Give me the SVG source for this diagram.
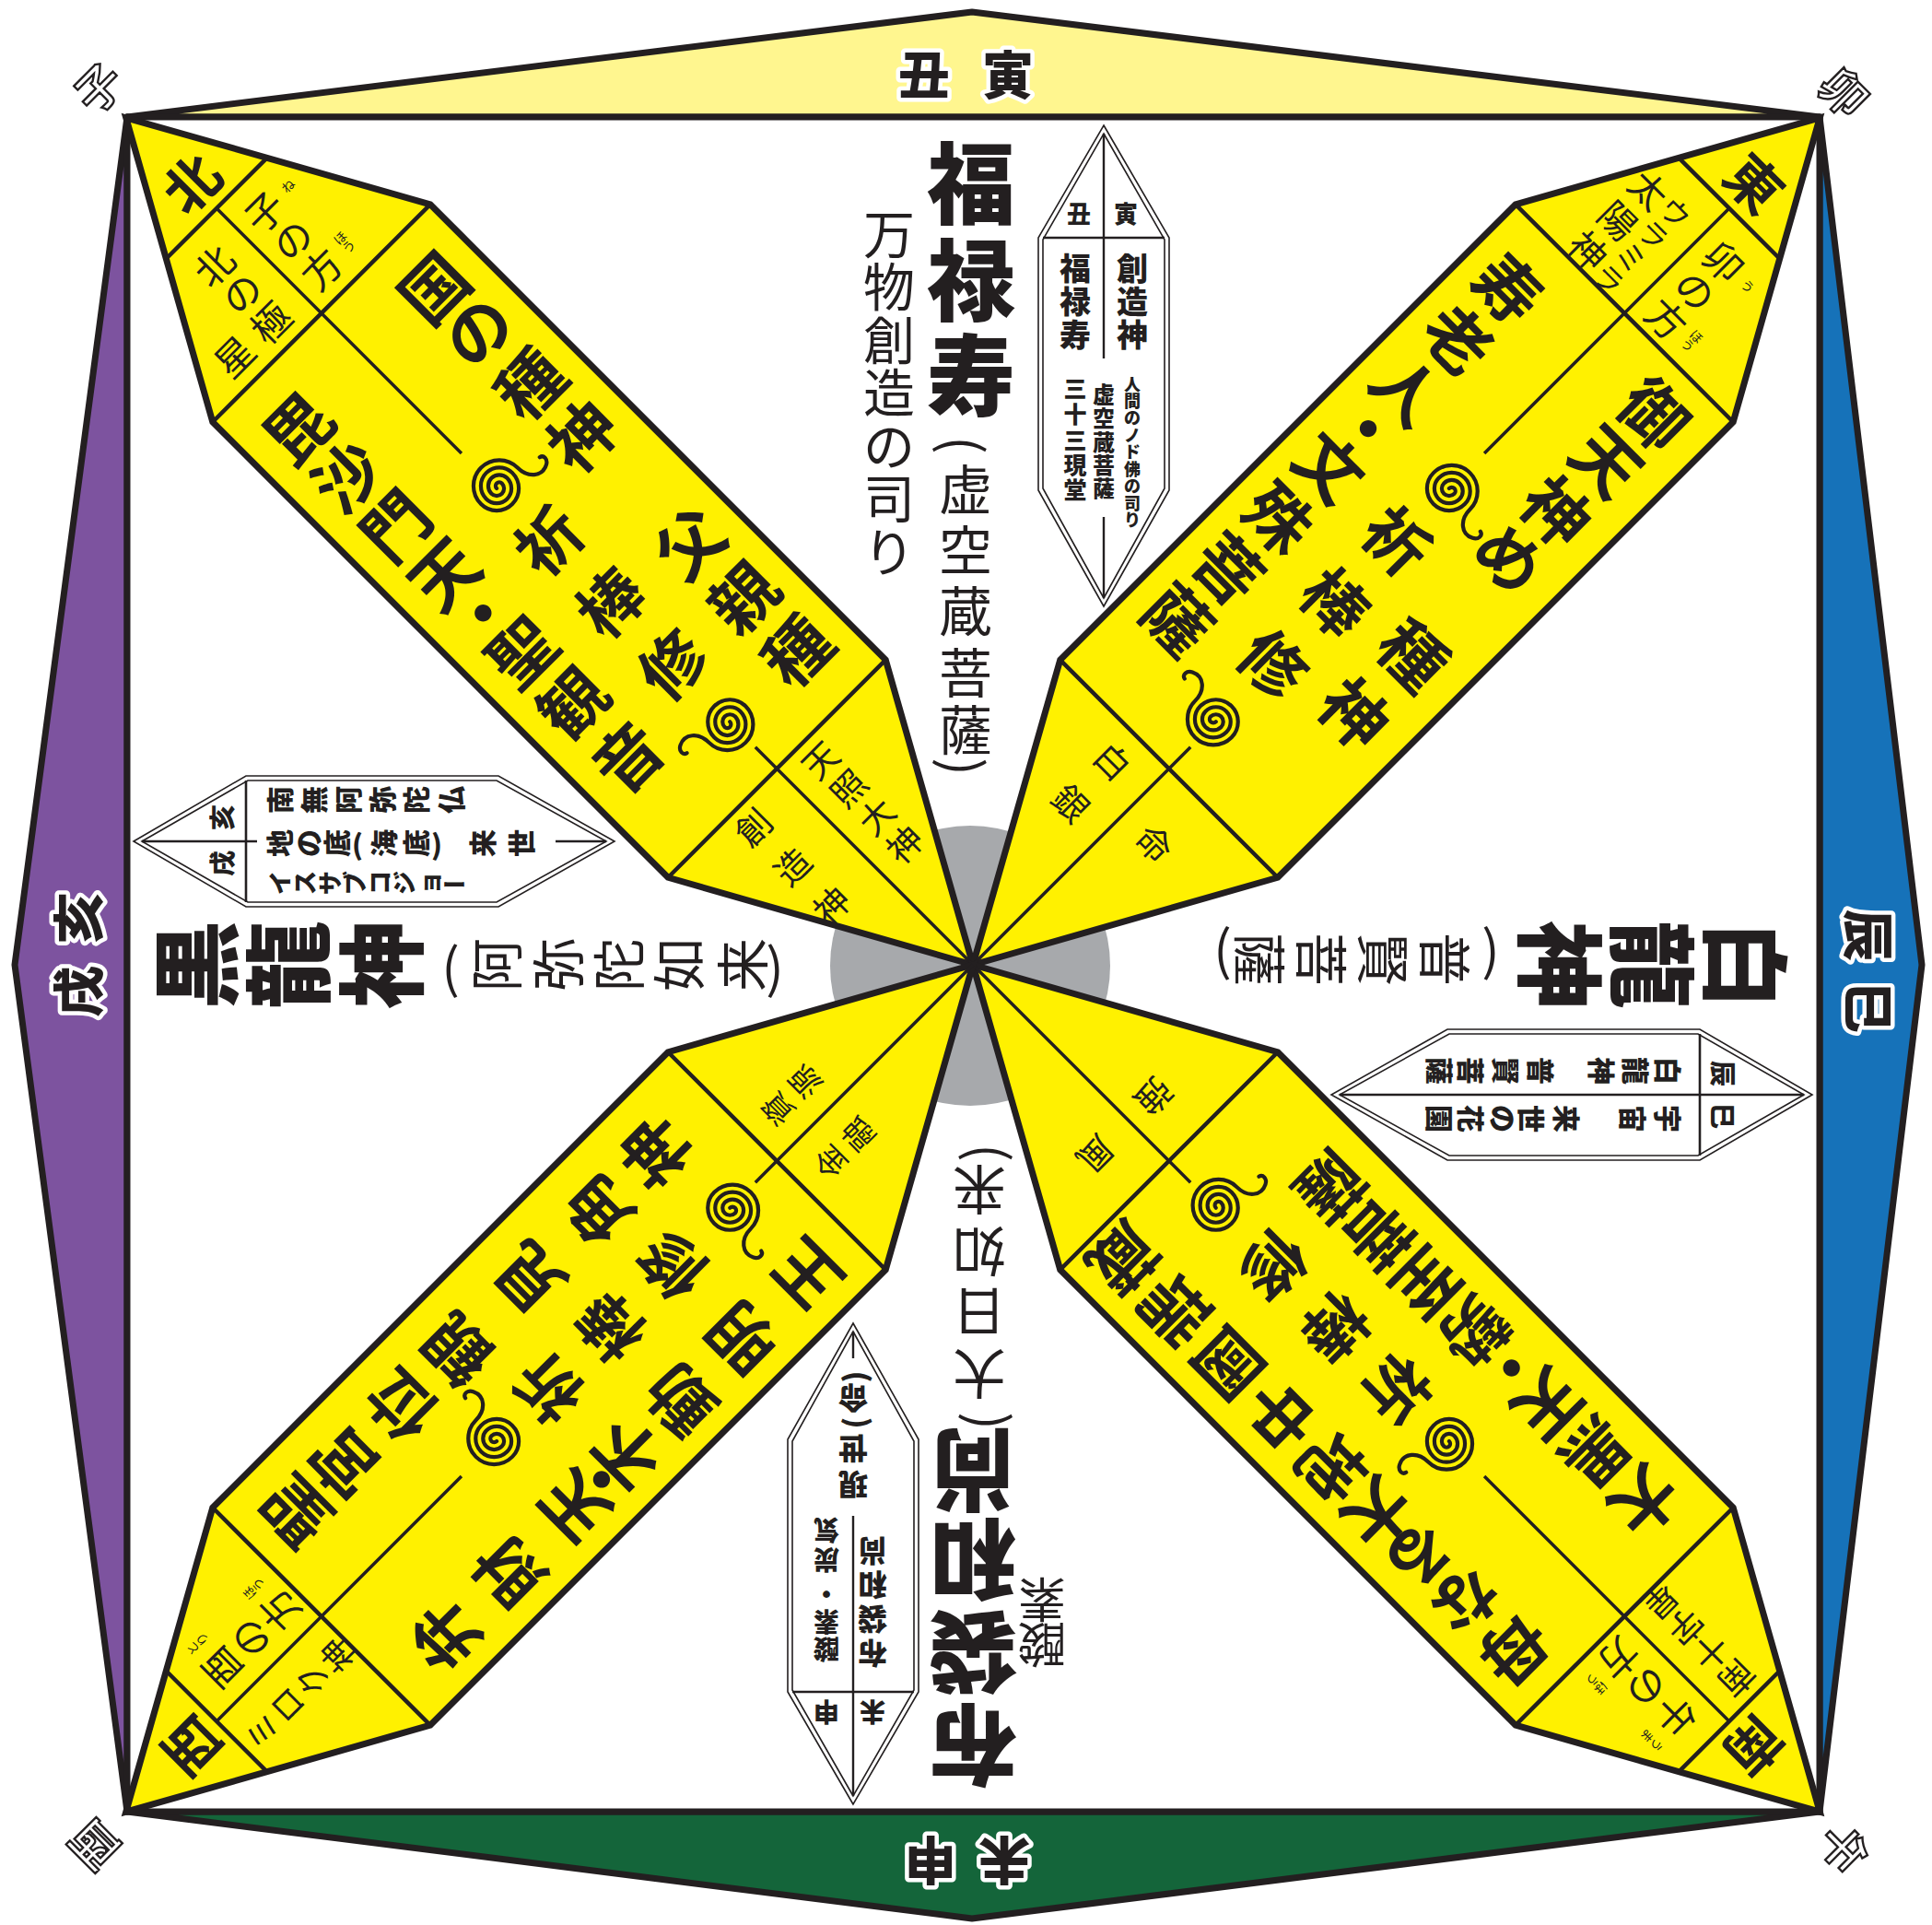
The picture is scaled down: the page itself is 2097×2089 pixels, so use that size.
<svg xmlns="http://www.w3.org/2000/svg" width="2097" height="2089" viewBox="0 0 2097 2089">
<style>
.t{font-family:"Noto Sans CJK JP","Noto Sans CJK SC",sans-serif;fill:#231F20;text-anchor:middle;dominant-baseline:central}
.b{font-weight:700}
.x{font-weight:900}
.r{font-weight:400}
.halo{paint-order:stroke;stroke:#fff;stroke-width:9;stroke-linejoin:round}
.ol{fill:#fff;stroke:#231F20;stroke-width:2.4;font-weight:700}
.ln{stroke:#231F20;fill:none}
</style>
<defs>
<g id="pet">
<path d="M0,-1300L167,-1000L167,-301L0,0L-167,-301L-167,-1000Z" fill="#FFF100" stroke="#231F20" stroke-width="7"/>
<path class="ln" d="M77,-1161H-77M167,-1000H-167M167,-301H-167" stroke-width="4.5"/>
<path class="ln" d="M0,-1161V-785M0,-334V0" stroke-width="3.5"/>
</g>
<path id="sp" class="ln" stroke-width="4.2" stroke-linecap="round" d="M0,0 A4,4 0 0 1 8,0 A8,8 0 0 1 -8,0 A12,12 0 0 1 16,0 A16,16 0 0 1 -16,0 A20,20 0 0 1 24,0 A24,24 0 0 1 -24,0 A28,28 0 0 1 32,0 C32,16 44,26 56,20 C62,17 62,10 57,9"/>
<g id="hex">
<polygon class="ln" stroke-width="1.6" points="0,-526 71,-404 71,-130 0,-4 -71,-130 -71,-404"/>
<polygon class="ln" stroke-width="1.6" points="0,-517 66,-402 66,-132 0,-13 -66,-132 -66,-402"/>
<path class="ln" stroke-width="2.6" d="M-66,-404H66"/>
</g>
</defs>

<g id="frame" stroke="#231F20" stroke-width="7" stroke-linejoin="round">
<polygon points="138,127 1055,13 1975,127" fill="#FFF68F"/>
<polygon points="1975,127 2086,1047 1975,1966" fill="#1672B9"/>
<polygon points="1975,1966 1055,2082 138,1966" fill="#14653A"/>
<polygon points="138,1966 16,1047 138,127" fill="#7D539F"/>
<rect x="138" y="127" width="1837" height="1839" fill="#fff"/>
</g>
<circle cx="1053" cy="1048" r="152" fill="#A7A9AC"/>

<g id="corners" font-size="50">
<text class="t ol" transform="translate(105,93) rotate(-45)">子</text>
<text class="t ol" transform="translate(2004,98) rotate(45)">卯</text>
<text class="t ol" transform="translate(2003,2008) rotate(135)">午</text>
<text class="t ol" transform="translate(100,2005) rotate(-135)">酉</text>
</g>

<g id="petal-nw" transform="translate(1056,1047) rotate(-45)">
<use href="#pet"/>
<use href="#sp" transform="translate(0,-731)"/>
<use href="#sp" transform="translate(0,-373) rotate(180)"/>
<text class="t b" font-size="60" x="0" y="-1203">北</text>
<text class="t r" font-size="42" x="34 34 34" y="-1124 -1081 -1036">子の方</text>
<text class="t r" font-size="14" x="72 72 72" y="-1124 -1044 -1031">ねほう</text>
<text class="t r" font-size="42" x="-46 -46 -46 -100" y="-1121 -1079 -1034 -1036">北の極星</text>
<text class="t b" font-size="72" x="106 106 106 106 106 106 106" y="-937 -870 -790 -710 -545 -462 -380">国の種神父親種</text>
<text class="t b" font-size="70" x="0 0 0" y="-655 -560 -465">祈棒修</text>
<text class="t b" font-size="72" x="-106 -106 -106 -106 -106 -106 -106 -106" y="-934 -859 -784 -709 -650 -591 -512 -428">毘沙門天・聖観音</text>
<text class="t r" font-size="38" x="40 40 40 40" y="-276 -233 -190 -147">天照大神</text>
<text class="t r" font-size="38" x="-63 -63 -63" y="-276 -216 -156">創造神</text>
</g>

<g id="petal-ne" transform="translate(1056,1047) rotate(45)">
<use href="#pet"/>
<use href="#sp" transform="translate(0,-731)"/>
<use href="#sp" transform="translate(0,-373) rotate(180)"/>
<text class="t b" font-size="60" x="0" y="-1203">東</text>
<text class="t r" font-size="42" x="37 37 37" y="-1118 -1074 -1030">卯の方</text>
<text class="t r" font-size="14" x="74 73 73" y="-1116 -1038 -1025">うほう</text>
<text class="t r" font-size="40" x="-76 -76 -76" y="-1115 -1068 -1022">太陽神</text>
<text class="t r" font-size="32" x="-38 -38 -38 -38" y="-1118 -1084 -1050 -1016">ウラミラ</text>
<text class="t b" font-size="72" x="100 100 100 100 100 100" y="-950 -877 -800 -728 -580 -490">御天神め種神</text>
<text class="t b" font-size="70" x="0 0 0" y="-655 -560 -465">祈棒修</text>
<text class="t b" font-size="72" x="-108 -108 -108 -108 -108 -108 -108 -108" y="-934 -856 -778 -719 -660 -582 -504 -426">寿老人・文殊菩薩</text>
<text class="t r" font-size="38" x="-49 -49" y="-265 -201">白銀</text>
<text class="t r" font-size="38" x="46" y="-234">命</text>
</g>

<g id="petal-se" transform="translate(1056,1047) rotate(135)">
<use href="#pet"/>
<use href="#sp" transform="translate(0,-731)"/>
<use href="#sp" transform="translate(0,-373) rotate(180)"/>
<text class="t b" font-size="60" x="0" y="-1203">南</text>
<text class="t r" font-size="42" x="37 37 37" y="-1118 -1074 -1030">午の方</text>
<text class="t r" font-size="14" x="74 74 73 73" y="-1124 -1110 -1038 -1025">うまほう</text>
<text class="t r" font-size="38" x="-39 -39 -39 -39" y="-1136 -1096 -1057 -1018">南十字星</text>
<text class="t b" font-size="72" x="110 110 110 110 110 110 110 110 110" y="-946 -870 -800 -735 -665 -586 -507 -425 -345">母なる大地中國瑞蔵</text>
<text class="t b" font-size="70" x="0 0 0" y="-655 -560 -465">祈棒修</text>
<text class="t b" font-size="72" x="-104 -104 -104 -104 -104 -104 -104 -104" y="-931 -857 -783 -727 -671 -597 -523 -449">大黒天・勢至菩薩</text>
<text class="t r" font-size="38" x="-38" y="-242">強</text>
<text class="t r" font-size="38" x="51" y="-242">風</text>
</g>

<g id="petal-sw" transform="translate(1056,1047) rotate(-135)">
<use href="#pet"/>
<use href="#sp" transform="translate(0,-731)"/>
<use href="#sp" transform="translate(0,-373) rotate(180)"/>
<text class="t b" font-size="60" x="0" y="-1203">西</text>
<text class="t r" font-size="42" x="37 37 37" y="-1118 -1074 -1030">酉の方</text>
<text class="t r" font-size="14" x="74 74 73 73" y="-1124 -1110 -1038 -1025">とりほう</text>
<text class="t r" font-size="36" x="-42 -42 -42 -42" y="-1136 -1097 -1058 -1019">ミロク神</text>
<text class="t b" font-size="72" x="100 100 100 100 100 100 100" y="-944 -869 -781 -695 -585 -481 -392">聖宮位観見角神</text>
<text class="t b" font-size="70" x="0 0 0" y="-655 -560 -465">祈棒修</text>
<text class="t b" font-size="72" x="-110 -110 -110 -110 -110 -110 -110 -110" y="-925 -826 -726 -684 -644 -563 -468 -369">弁財天・不動明王</text>
<text class="t r" font-size="34" x="39 39" y="-262 -220">資源</text>
<text class="t r" font-size="34" x="-42 -42" y="-262 -220">金融</text>
</g>

<g id="q-top">
<text class="t x halo" font-size="56" x="1003 1094" y="77 77">丑寅</text>
<text class="t x" font-size="96" x="1054 1054 1054" y="193 298 401">福禄寿</text>
<text class="t r" font-size="58" transform="translate(1048,483) rotate(90)">(</text>
<text class="t r" font-size="58" x="1048 1048 1048 1048 1048" y="528 594 660 727 789">虚空蔵菩薩</text>
<text class="t r" font-size="58" transform="translate(1048,832) rotate(90)">)</text>
<text class="t r" font-size="56" x="965 965 965 965 965 965 965" y="250 307 365 422 480 537 595">万物創造の司り</text>
<g id="label-top">
<use href="#hex" transform="translate(1198,662)"/>
<path class="ln" stroke-width="2.4" d="M1198,145V389M1198,561V649"/>
<text class="t x" font-size="26" x="1171 1222" y="230 230">丑寅</text>
<text class="t x" font-size="34" x="1167 1167 1167" y="289 325 361">福禄寿</text>
<text class="t x" font-size="34" x="1229 1229 1229" y="289 325 361">創造神</text>
<text class="t x" font-size="25" x="1167 1167 1167 1167 1167" y="420 448 476 503 530">三十三現堂</text>
<text class="t x" font-size="24" x="1198 1198 1198 1198 1198" y="426 452 478 503 528">虚空蔵菩薩</text>
<text class="t x" font-size="18" x="1229 1229 1229 1229 1229 1229 1229 1229 1229" y="416 434 452 471 489 508 526 545 563">人間のノド佛の司り</text>
</g>
</g>

<g id="q-right" transform="rotate(90 1056 1047)">
<text class="t x halo" font-size="56" x="1024 1102" y="72 72">辰巳</text>
<text class="t x" font-size="96" x="1056 1056 1056" y="204 305 405">白龍神</text>
<text class="t r" font-size="58" transform="translate(1050,485) rotate(90)">(</text>
<text class="t r" font-size="58" x="1050 1050 1050 1050" y="532 599 666 733">普賢菩薩</text>
<text class="t r" font-size="58" transform="translate(1050,776) rotate(90)">)</text>
<g id="label-right">
<use href="#hex" transform="translate(1197,662)"/>
<path class="ln" stroke-width="2.4" d="M1197,145V649"/>
<text class="t x" font-size="28" x="1174 1220" y="232 232">辰巳</text>
<text class="t x" font-size="30" x="1171 1171 1171 1171 1171 1171 1171" y="291 326 363 429 467 505 539">白龍神普賢菩薩</text>
<text class="t x" font-size="30" x="1223 1223 1223 1223 1223 1223 1223" y="291 329 401 439 470 505 539">宇宙来世の花園</text>
</g>
</g>

<g id="q-bottom" transform="rotate(180 1056 1047)">
<text class="t x halo" font-size="56" x="1022 1102" y="72 72">未申</text>
<text class="t x" font-size="96" x="1056 1056 1056 1056" y="195 296 396 493">布袋和尚</text>
<text class="t r" font-size="58" transform="translate(1049,552) rotate(90)">(</text>
<text class="t r" font-size="58" x="1049 1049 1049 1049" y="600 667 733 800">大日如来</text>
<text class="t r" font-size="58" transform="translate(1049,843) rotate(90)">)</text>
<text class="t r" font-size="52" x="981 981" y="307 356">酸素</text>
<g id="label-bottom">
<use href="#hex" transform="translate(1186,662)"/>
<path class="ln" stroke-width="2.4" d="M1186,145V449M1186,620V649"/>
<text class="t x" font-size="28" x="1165 1215" y="235 235">未申</text>
<text class="t x" font-size="32" x="1165 1165 1165 1165" y="298 335 372 409">布袋和尚</text>
<text class="t x" font-size="28" x="1215 1215 1215 1215 1215" y="303 333 363 400 432">酸素・炭気</text>
<text class="t x" font-size="32" x="1186 1186" y="481 520">現世</text>
<text class="t x" font-size="32" transform="translate(1186,550) rotate(90)">(</text>
<text class="t x" font-size="32" x="1186" y="575">命</text>
<text class="t x" font-size="32" transform="translate(1186,600) rotate(90)">)</text>
</g>
</g>

<g id="q-left" transform="rotate(-90 1056 1047)">
<text class="t x halo" font-size="56" x="1027 1107" y="72 72">戌亥</text>
<text class="t x" font-size="96" x="1056 1056 1056" y="198 298 399">黒龍神</text>
<text class="t r" font-size="58" transform="translate(1056,480) rotate(90)">(</text>
<text class="t r" font-size="58" x="1056 1056 1056 1056 1056" y="527 594 660 725 794">阿弥陀如来</text>
<text class="t r" font-size="58" transform="translate(1056,832) rotate(90)">)</text>
<g id="label-left">
<use href="#hex" transform="translate(1190,662)"/>
<path class="ln" stroke-width="2.4" d="M1190,145V270M1190,594V649"/>
<text class="t x" font-size="28" x="1166 1216" y="231 231">戌亥</text>
<text class="t x" font-size="30" x="1235 1235 1235 1235 1235 1235" y="293 330 367 404 441 479">南無阿弥陀仏</text>
<text class="t x" font-size="30" x="1188 1188 1188" y="293 324 355">地の底</text>
<text class="t x" font-size="30" transform="translate(1188,379) rotate(90)">(</text>
<text class="t x" font-size="30" x="1188 1188" y="406 441">海底</text>
<text class="t x" font-size="30" transform="translate(1188,465) rotate(90)">)</text>
<text class="t x" font-size="30" x="1188 1188" y="513 555">来世</text>
<text class="t x" font-size="26" x="1145 1145 1145 1145 1145 1145 1145" y="293 320 347 374 401 428 455">イスサブコジョ</text>
<text class="t x" font-size="26" transform="translate(1145,484) rotate(90)">ー</text>
</g>
</g>
</svg>
